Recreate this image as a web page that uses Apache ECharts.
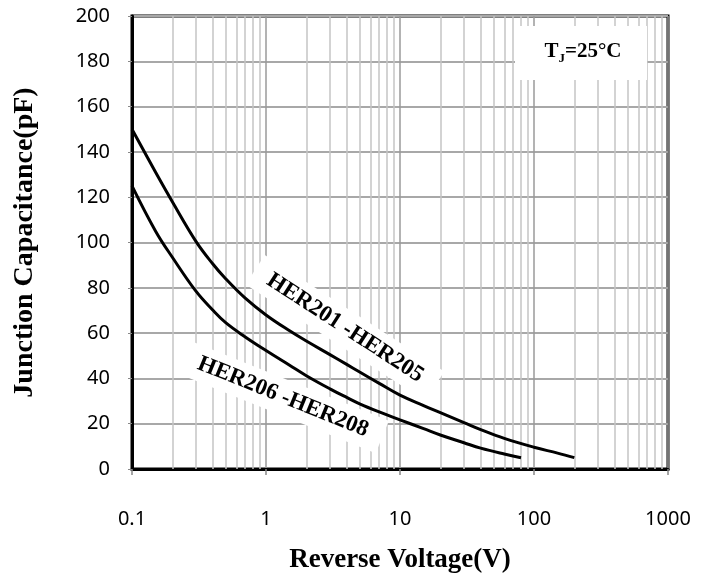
<!DOCTYPE html>
<html>
<head>
<meta charset="utf-8">
<script src="https://cdn.jsdelivr.net/npm/echarts@6/dist/echarts.min.js"></script>
<style>
  html, body { margin: 0; padding: 0; background: #fff; }
  #chart { width: 713px; height: 579px; }
</style>
</head>
<body>
<div id="chart"></div>
<script>
// HER201 - HER205
const voltageA = [0.1, 0.15, 0.2, 0.3, 0.4, 0.5, 0.7, 1, 1.5, 2, 3, 4, 5, 7, 10, 15, 20, 30, 40, 60, 100, 150, 200];
const capA = [150, 131, 118, 100.5, 90.6, 84, 75.4, 68, 61, 56.5, 50.5, 46.2, 42.8, 37.8, 32.6, 28, 24.9, 20.5, 17.4, 13.5, 9.6, 7, 5];
// HER206 - HER208
const voltageB = [0.1, 0.15, 0.2, 0.3, 0.4, 0.5, 0.7, 1, 1.5, 2, 3, 4, 5, 7, 10, 15, 20, 30, 40, 60, 80];
const capB = [125, 105, 93.5, 78.5, 70.2, 64.6, 58.3, 52.3, 45.8, 41.2, 35.4, 31.6, 28.8, 25.2, 21.7, 17.8, 15, 11.6, 9.2, 6.6, 5];

// minor vertical grid lines of the log axis
const minorX = [0.2, 0.3, 0.4, 0.5, 0.6, 0.7, 0.8, 0.9,
  2, 3, 4, 5, 6, 7, 8, 9,
  20, 30, 40, 50, 60, 70, 80, 90,
  200, 300, 400, 500, 600, 700, 800, 900];

const chart = echarts.init(document.getElementById('chart'));

const serif = '"Liberation Serif", "Times New Roman", serif';
const sans = '"Noto Sans", "Open Sans", sans-serif';

const option = {
  backgroundColor: '#fff',
  animation: false,
  grid: {
    left: 132, right: 45, top: 16, bottom: 109,
    show: true,
    borderColor: '#000',
    borderWidth: 3
  },
  xAxis: {
    type: 'log',
    logBase: 10,
    min: 0.1,
    max: 1000,
    name: 'Reverse Voltage(V)',
    nameLocation: 'middle',
    nameGap: 78,
    nameTextStyle: { fontFamily: serif, fontWeight: 'bold', fontSize: 27, color: '#000' },
    axisLine: { lineStyle: { color: '#000', width: 3 } },
    axisTick: { show: true, length: 6, lineStyle: { color: '#888', width: 1.5 } },
    axisLabel: {
      margin: 40,
      fontFamily: sans, fontSize: 20, color: '#000',
      formatter: v => String(v)
    },
    splitLine: { show: true, lineStyle: { color: '#9a9a9a', width: 1.5 } },
    minorTick: { show: false },
    minorSplitLine: { show: false }
  },
  yAxis: {
    type: 'value',
    min: 0,
    max: 200,
    interval: 20,
    name: 'Junction Capacitance(pF)',
    nameLocation: 'middle',
    nameGap: 93,
    nameTextStyle: { fontFamily: serif, fontWeight: 'bold', fontSize: 28, color: '#000' },
    axisLine: { show: true, lineStyle: { color: '#000', width: 3 } },
    axisTick: { show: true, length: 4, lineStyle: { color: '#888', width: 1 } },
    axisLabel: { margin: 22, fontFamily: sans, fontSize: 20, color: '#000' },
    splitLine: { show: true, lineStyle: { color: '#a8a8a8', width: 2 } }
  },
  series: [
    {
      name: 'minor',
      type: 'line',
      data: [],
      silent: true,
      z: 1,
      markLine: {
        silent: true,
        symbol: ['none', 'none'],
        label: { show: false },
        lineStyle: { color: '#c4c4c4', width: 1.5, type: 'solid' },
        data: minorX.map(v => ({ xAxis: v }))
      }
    },
    {
      name: 'HER201 -HER205',
      type: 'line',
      smooth: 0.4,
      showSymbol: false,
      z: 5,
      lineStyle: { color: '#000', width: 3 },
      data: voltageA.map((v, i) => [v, capA[i]])
    },
    {
      name: 'HER206 -HER208',
      type: 'line',
      smooth: 0.4,
      showSymbol: false,
      z: 5,
      lineStyle: { color: '#000', width: 3 },
      data: voltageB.map((v, i) => [v, capB[i]])
    }
  ],
  graphic: [
    {
      type: 'rect',
      z: 10,
      shape: { x: 515, y: 26, width: 132, height: 54 },
      style: { fill: '#fff' }
    },
    {
      type: 'text',
      z: 11,
      x: 583, y: 52,
      style: {
        text: '{t|T}{s|J}{t|=25°C}',
        align: 'center',
        verticalAlign: 'middle',
        rich: {
          t: { fontFamily: serif, fontWeight: 'bold', fontSize: 21, fill: '#000' },
          s: { fontFamily: serif, fontWeight: 'bold', fontSize: 13, fill: '#000', padding: [14, 0, 0, 0] }
        }
      }
    },
    {
      type: 'text',
      z: 11,
      x: 345, y: 328,
      rotation: -33 * Math.PI / 180,
      style: {
        text: 'HER201 -HER205',
        align: 'center',
        verticalAlign: 'middle',
        fontFamily: serif, fontWeight: 'bold', fontSize: 23, fill: '#000',
        backgroundColor: '#fff',
        padding: [6, 16]
      }
    },
    {
      type: 'text',
      z: 11,
      x: 283, y: 397,
      rotation: -22 * Math.PI / 180,
      style: {
        text: 'HER206 -HER208',
        align: 'center',
        verticalAlign: 'middle',
        fontFamily: serif, fontWeight: 'bold', fontSize: 23, fill: '#000',
        backgroundColor: '#fff',
        padding: [6, 16]
      }
    }
  ]
};

chart.setOption(option);
</script>
</body>
</html>
